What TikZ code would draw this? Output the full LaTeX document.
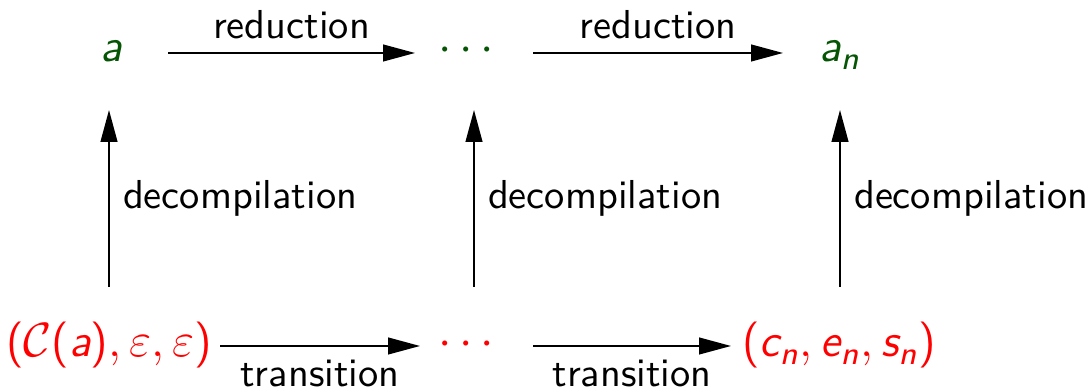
\documentclass[tikz,border=0pt]{standalone}
\usepackage{amsmath}
\usetikzlibrary{arrows.meta}
\renewcommand{\familydefault}{\sfdefault}
% sans-serif italic and upright pieces inside formulas
\newcommand{\vi}[1]{\text{\sffamily\itshape #1}}
\newcommand{\su}[1]{\text{\sffamily\upshape #1}}
\definecolor{termgreen}{RGB}{5,85,5}
\definecolor{machred}{RGB}{255,0,0}
\begin{document}
\begin{tikzpicture}[x=0.25pt,y=-0.25pt,
  term/.style={anchor=base,inner sep=0pt,text=termgreen,font=\fontsize{11.5}{13}\selectfont},
  conf/.style={anchor=base,inner sep=0pt,text=machred,font=\fontsize{11.5}{13}\selectfont},
  arr/.style={line width=0.45pt,-{Triangle[length=8pt,width=4.2pt]}},
  lbl/.style={font=\fontsize{10.1}{12}\selectfont\sffamily,text=black}]
\useasboundingbox (0,0) rectangle (1091,392);

% source terms (top row)
\node[term] (a)  at (111,62) {$\vi{a}$};
\node[term] (d1) at (470,62) {$\cdots$};
\node[term] (an) at (840,62) {$\vi{a}_{\vi{n}}$};

% machine configurations (bottom row)
\node[conf] (c0) at (109,357) {$\su{(}\mathcal{C}\su{(}\vi{a}\su{)},\varepsilon,\varepsilon\su{)}$};
\node[conf] (d2) at (470,356) {$\cdots$};
\node[conf] (cn) at (839,357) {$\su{(}\vi{c}_{\vi{n}},\vi{e}_{\vi{n}},\vi{s}_{\vi{n}}\su{)}$};

% reduction steps
\draw[arr] ([shift={(57,-9)}]a.base) -- node[lbl,above,inner sep=3.3pt] {reduction} ([shift={(-55,-9)}]d1.base);
\draw[arr] ([shift={(63,-9)}]d1.base) -- node[lbl,above,inner sep=3.3pt] {reduction} ([shift={(-57,-9)}]an.base);

% transition steps
\draw[arr] ([shift={(111,-11)}]c0.base) -- node[lbl,below,inner sep=3.3pt] {transition} ([shift={(-50,-10)}]d2.base);
\draw[arr] ([shift={(63,-10)}]d2.base) -- node[lbl,below,inner sep=3.3pt] {transition} ([shift={(-108,-11)}]cn.base);

% decompilation
\draw[arr] ([shift={(0,-70)}]c0.base) -- node[lbl,right,inner sep=3.3pt] {decompilation} ([shift={(-2,48)}]a.base);
\draw[arr] ([shift={(4,-69)}]d2.base) -- node[lbl,right,inner sep=3.3pt] {decompilation} ([shift={(4,48)}]d1.base);
\draw[arr] ([shift={(1,-70)}]cn.base) -- node[lbl,right,inner sep=3.3pt] {decompilation} ([shift={(0,48)}]an.base);
\end{tikzpicture}
\end{document}
